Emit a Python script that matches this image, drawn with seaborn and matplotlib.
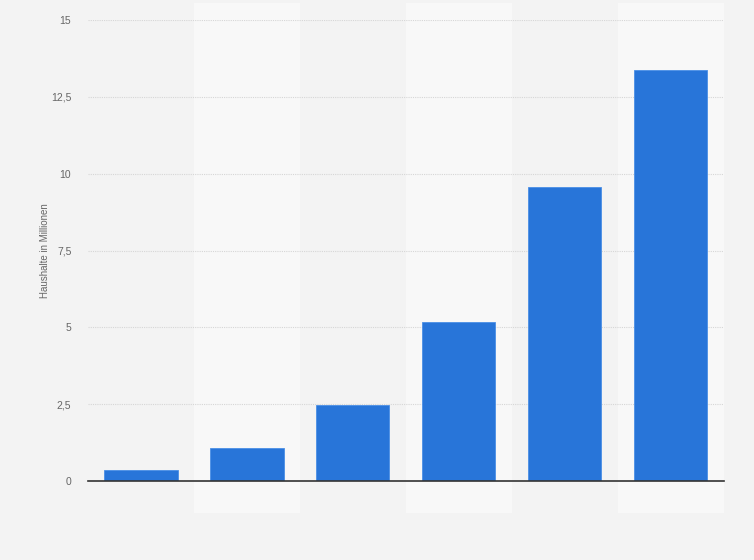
import numpy as np
import pandas as pd
import matplotlib
matplotlib.use('agg')
import matplotlib.pyplot as plt
import seaborn as sns
from matplotlib.ticker import FuncFormatter

# Daten (x-Beschriftungen im Original nicht sichtbar)
categories = ['1', '2', '3', '4', '5', '6']
households = [0.36, 1.08, 2.48, 5.16, 9.57, 13.37]
y_ticks = [0, 2.5, 5, 7.5, 10, 12.5, 15]

df = pd.DataFrame({'kategorie': categories, 'haushalte': households})

sns.set_style('white')
plt.rcParams['font.family'] = ['Liberation Sans', 'DejaVu Sans']

fig = plt.figure(figsize=(7.54, 5.60), dpi=100, facecolor='#f3f3f3')
ax = fig.add_axes([0.1167, 0.141, 0.8433, 0.823])
ax.set_facecolor('#f3f3f3')

# abwechselnde Spaltenhintergründe
for i in range(len(categories)):
    if i % 2 == 1:
        ax.axvspan(i - 0.5, i + 0.5, ymin=-0.07, ymax=1.037, color='#f8f8f8',
                   zorder=0, clip_on=False, lw=0)

ax.yaxis.grid(True, linestyle=(0, (1, 1)), color='#d6d6d6', linewidth=0.8, zorder=1)
ax.set_axisbelow(True)

sns.barplot(data=df, x='kategorie', y='haushalte', color='#2875d9', width=0.69,
            saturation=1, ax=ax, zorder=3, edgecolor='#4a8fe6', linewidth=0.6)

ax.set_xlim(-0.5, len(categories) - 0.5)
ax.set_ylim(0, 15)
ax.set_yticks(y_ticks)
ax.yaxis.set_major_formatter(FuncFormatter(lambda v, p: f'{v:g}'.replace('.', ',')))
ax.tick_params(axis='y', length=0, labelsize=7.5, labelcolor='#666666', pad=12)
ax.set_xticks(range(len(categories)))
ax.set_xticklabels([''] * len(categories))
ax.tick_params(axis='x', length=0)
ax.set_xlabel('')
ax.set_ylabel('Haushalte in Millionen', fontsize=7, color='#666666', labelpad=1)

for s in ['top', 'right', 'left']:
    ax.spines[s].set_visible(False)
ax.spines['bottom'].set_color('#333333')
ax.spines['bottom'].set_linewidth(1.2)
ax.spines['bottom'].set_zorder(4)

plt.savefig('out.png', dpi=100, facecolor=fig.get_facecolor())
plt.close()
